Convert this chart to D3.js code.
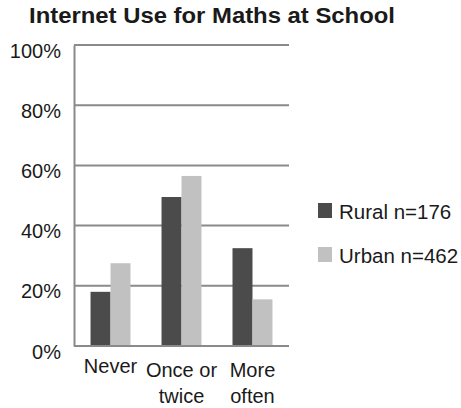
<!DOCTYPE html>
<html>
<head>
<meta charset="utf-8">
<script src="https://cdn.jsdelivr.net/npm/d3@7"></script>
<style>
  html, body { margin: 0; padding: 0; background: #fff; }
  svg { display: block; font-family: "Liberation Sans", Arial, Helvetica, sans-serif; }
</style>
</head>
<body>
<svg id="chart" width="461" height="408"></svg>
<script>
// Share of pupils using the internet for maths at school
const categories = [["Never"], ["Once or", "twice"], ["More", "often"]];
const categoryKeys = ["Never", "Once or twice", "More often"];
const seriesNames = ["Rural n=176", "Urban n=462"];
const rural = [18, 49.5, 32.5];
const urban = [27.5, 56.5, 15.5];
const yTicks = [0, 20, 40, 60, 80, 100];
const colors = ["#4b4b4b", "#c1c1c1"];

const svg = d3.select("#chart");
const margin = { left: 74, right: 172, top: 45, bottom: 62 };
const W = 461, H = 408;
const textColor = "#1a1a1a";
const gridColor = "#8a8a8a";

const x0 = d3.scaleBand()
  .domain(categoryKeys)
  .range([margin.left, W - margin.right])
  .paddingInner(0.437)
  .paddingOuter(0.233);

const x1 = d3.scaleBand()
  .domain(seriesNames)
  .range([0, x0.bandwidth()]);

const y = d3.scaleLinear()
  .domain([0, 100])
  .range([H - margin.bottom, margin.top]);

// Title
svg.append("text")
  .attr("x", 212)
  .attr("y", 23)
  .attr("text-anchor", "middle")
  .attr("font-weight", "bold")
  .attr("font-size", 22)
  .attr("textLength", 366)
  .attr("lengthAdjust", "spacingAndGlyphs")
  .attr("fill", textColor)
  .text("Internet Use for Maths at School");

// Horizontal gridlines
svg.append("g")
  .selectAll("line")
  .data(yTicks)
  .join("line")
  .attr("x1", margin.left)
  .attr("x2", W - margin.right)
  .attr("y1", d => y(d))
  .attr("y2", d => y(d))
  .attr("stroke", gridColor)
  .attr("stroke-width", 2);

// Y axis labels
const yAxis = d3.axisLeft(y)
  .tickValues(yTicks)
  .tickFormat(d => d + "%")
  .tickSize(0)
  .tickPadding(13);

const yg = svg.append("g")
  .attr("transform", `translate(${margin.left},0)`)
  .call(yAxis);
yg.select(".domain").attr("stroke", gridColor).attr("stroke-width", 2);
yg.selectAll("text")
  .attr("font-size", 20)
  .attr("dy", "0.6em")
  .attr("fill", textColor)
  .attr("font-family", "Liberation Sans, Arial, sans-serif");

// Bars
const rows = categoryKeys.map((k, i) => ({ key: k, values: [rural[i], urban[i]] }));

const groups = svg.append("g")
  .selectAll("g")
  .data(rows)
  .join("g")
  .attr("transform", d => `translate(${x0(d.key)},0)`);

groups.selectAll("rect")
  .data(d => d.values.map((v, j) => ({ series: seriesNames[j], v, j })))
  .join("rect")
  .attr("x", d => x1(d.series))
  .attr("width", x1.bandwidth())
  .attr("y", d => y(d.v))
  .attr("height", d => y(0) - y(d.v))
  .attr("fill", d => colors[d.j]);

// Baseline drawn over the bars
svg.append("line")
  .attr("x1", margin.left)
  .attr("x2", W - margin.right)
  .attr("y1", y(0))
  .attr("y2", y(0))
  .attr("stroke", gridColor)
  .attr("stroke-width", 2);

// Category labels (two lines where needed)
const catG = svg.append("g");
categories.forEach((lines, i) => {
  const cx = x0(categoryKeys[i]) + x0.bandwidth() / 2;
  const firstBaseline = lines.length === 1 ? 373 : 377;
  const t = catG.append("text")
    .attr("text-anchor", "middle")
    .attr("font-size", 20)
    .attr("fill", textColor);
  lines.forEach((ln, li) => {
    t.append("tspan")
      .attr("x", cx)
      .attr("y", li === 0 ? firstBaseline : 403)
      .text(ln);
  });
});

// Legend
const legend = svg.append("g")
  .selectAll("g")
  .data(seriesNames)
  .join("g")
  .attr("transform", (d, i) => `translate(318,${203 + i * 44})`);

legend.append("rect")
  .attr("width", 14)
  .attr("height", 15)
  .attr("fill", (d, i) => colors[i]);

legend.append("text")
  .attr("x", 21)
  .attr("y", 16)
  .attr("font-size", 20.5)
  .attr("fill", textColor)
  .text(d => d);
</script>
</body>
</html>
